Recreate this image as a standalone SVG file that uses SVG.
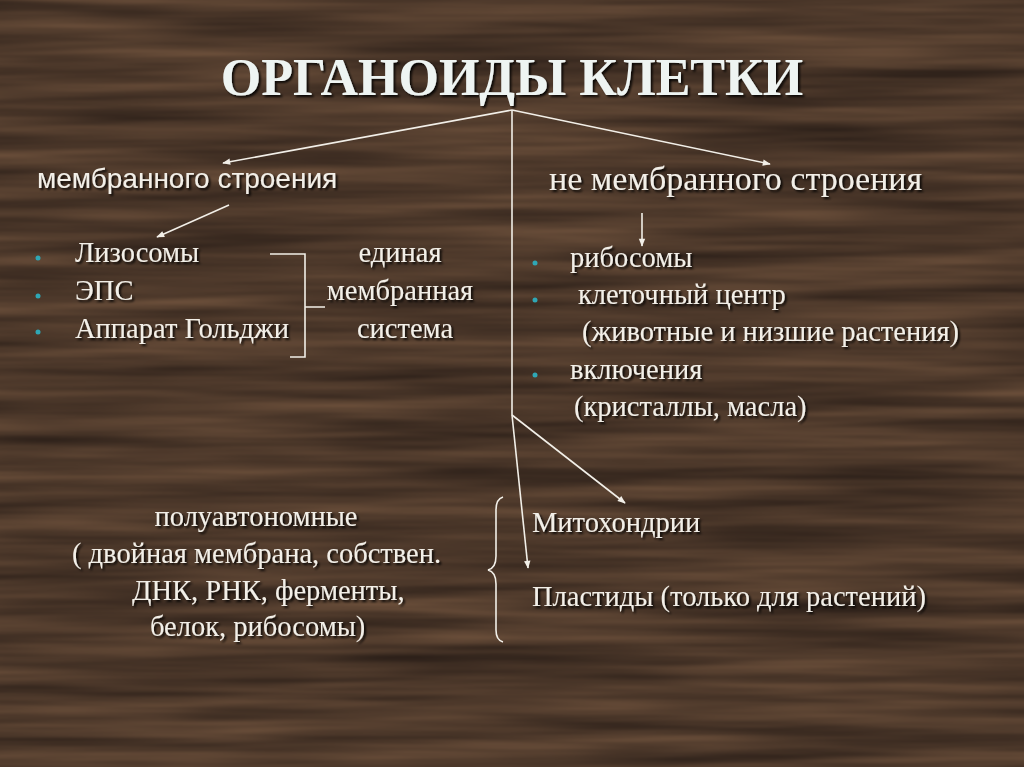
<svg xmlns="http://www.w3.org/2000/svg" width="1024" height="767" viewBox="0 0 1024 767">
<defs>
<filter id="wood" x="0" y="0" width="100%" height="100%" color-interpolation-filters="sRGB">
<feTurbulence type="fractalNoise" baseFrequency="0.003 0.06" numOctaves="3" seed="7" result="n"/>
<feColorMatrix in="n" type="matrix" values="0 0 0 0.32 0.14  0 0 0 0.24 0.10  0 0 0 0.17 0.08  0 0 0 0 1"/>
</filter>
<filter id="sh" x="-5%" y="-20%" width="110%" height="140%">
<feDropShadow dx="2" dy="2" stdDeviation="1" flood-color="#000" flood-opacity="0.85"/>
</filter>
<marker id="ah" viewBox="0 0 10 10" refX="9" refY="5" markerWidth="9" markerHeight="8" orient="auto" markerUnits="userSpaceOnUse">
<path d="M0,1 L10,5 L0,9 z" fill="#f2efe8"/>
</marker>
<style>
.t{font-family:"Liberation Serif","Times New Roman",serif;fill:#f2efe8;font-size:28.5px;filter:url(#sh)}
.s{font-family:"Liberation Sans",Arial,sans-serif;fill:#f2efe8;font-size:28px;filter:url(#sh)}
.ttl{font-family:"Liberation Serif","Times New Roman",serif;font-weight:bold;font-size:52px;fill:#eef4f2;filter:url(#sh)}
.c{text-anchor:middle}
.ln{stroke:#f2efe8;stroke-width:1.6;fill:none}
.b{fill:#2fa7b5}
</style>
</defs>
<rect width="1024" height="767" fill="#4a3528"/>
<rect width="1024" height="767" filter="url(#wood)"/>

<g id="title"><text class="ttl c" x="512" y="95">ОРГАНОИДЫ КЛЕТКИ</text></g>

<g id="connectors">
<line class="ln" x1="512" y1="110" x2="223" y2="163" marker-end="url(#ah)"/>
<line class="ln" x1="512" y1="110" x2="770" y2="164" marker-end="url(#ah)"/>
<line class="ln" x1="512" y1="110" x2="512" y2="415"/>
<line class="ln" x1="229" y1="205" x2="157" y2="237" marker-end="url(#ah)"/>
<line class="ln" x1="642" y1="213" x2="642" y2="246" marker-end="url(#ah)"/>
<line class="ln" x1="512" y1="415" x2="625" y2="503" marker-end="url(#ah)"/>
<line class="ln" x1="512" y1="415" x2="528" y2="568" marker-end="url(#ah)"/>
<path class="ln" d="M270,254 H305 V357 H290 M305,307 H325"/>
<path class="ln" d="M503,497 Q496,499 496,510 V556 Q496,568 488,570 Q496,572 496,584 V630 Q496,640 503,642"/>
</g>

<g id="membrane">
<text class="s" x="37" y="188">мембранного строения</text>
<circle class="b" cx="38" cy="258" r="2.5"/>
<circle class="b" cx="38" cy="296" r="2.5"/>
<circle class="b" cx="38" cy="332" r="2.5"/>
<text class="t" x="75" y="262">Лизосомы</text>
<text class="t" x="75" y="300">ЭПС</text>
<text class="t" x="75" y="338">Аппарат Гольджи</text>
</g>

<g id="unified">
<text class="t c" x="400" y="262">единая</text>
<text class="t c" x="400" y="300">мембранная</text>
<text class="t c" x="405" y="338">система</text>
</g>

<g id="nonmembrane">
<text class="t" x="549" y="190" style="font-size:34px">не мембранного строения</text>
<circle class="b" cx="535" cy="263" r="2.5"/>
<circle class="b" cx="535" cy="300" r="2.5"/>
<circle class="b" cx="535" cy="375" r="2.5"/>
<text class="t" x="570" y="267">рибосомы</text>
<text class="t" x="578" y="304">клеточный центр</text>
<text class="t" x="582" y="341">(животные и низшие растения)</text>
<text class="t" x="570" y="379">включения</text>
<text class="t" x="574" y="416">(кристаллы, масла)</text>
</g>

<g id="semiauto">
<text class="t c" x="256" y="526">полуавтономные</text>
<text class="t" x="72" y="563">( двойная мембрана, собствен.</text>
<text class="t" x="132" y="600">ДНК, РНК, ферменты,</text>
<text class="t" x="150" y="636">белок, рибосомы)</text>
</g>

<g id="organelles">
<text class="t" x="532" y="532">Митохондрии</text>
<text class="t" x="532" y="606">Пластиды (только для растений)</text>
</g>
</svg>
